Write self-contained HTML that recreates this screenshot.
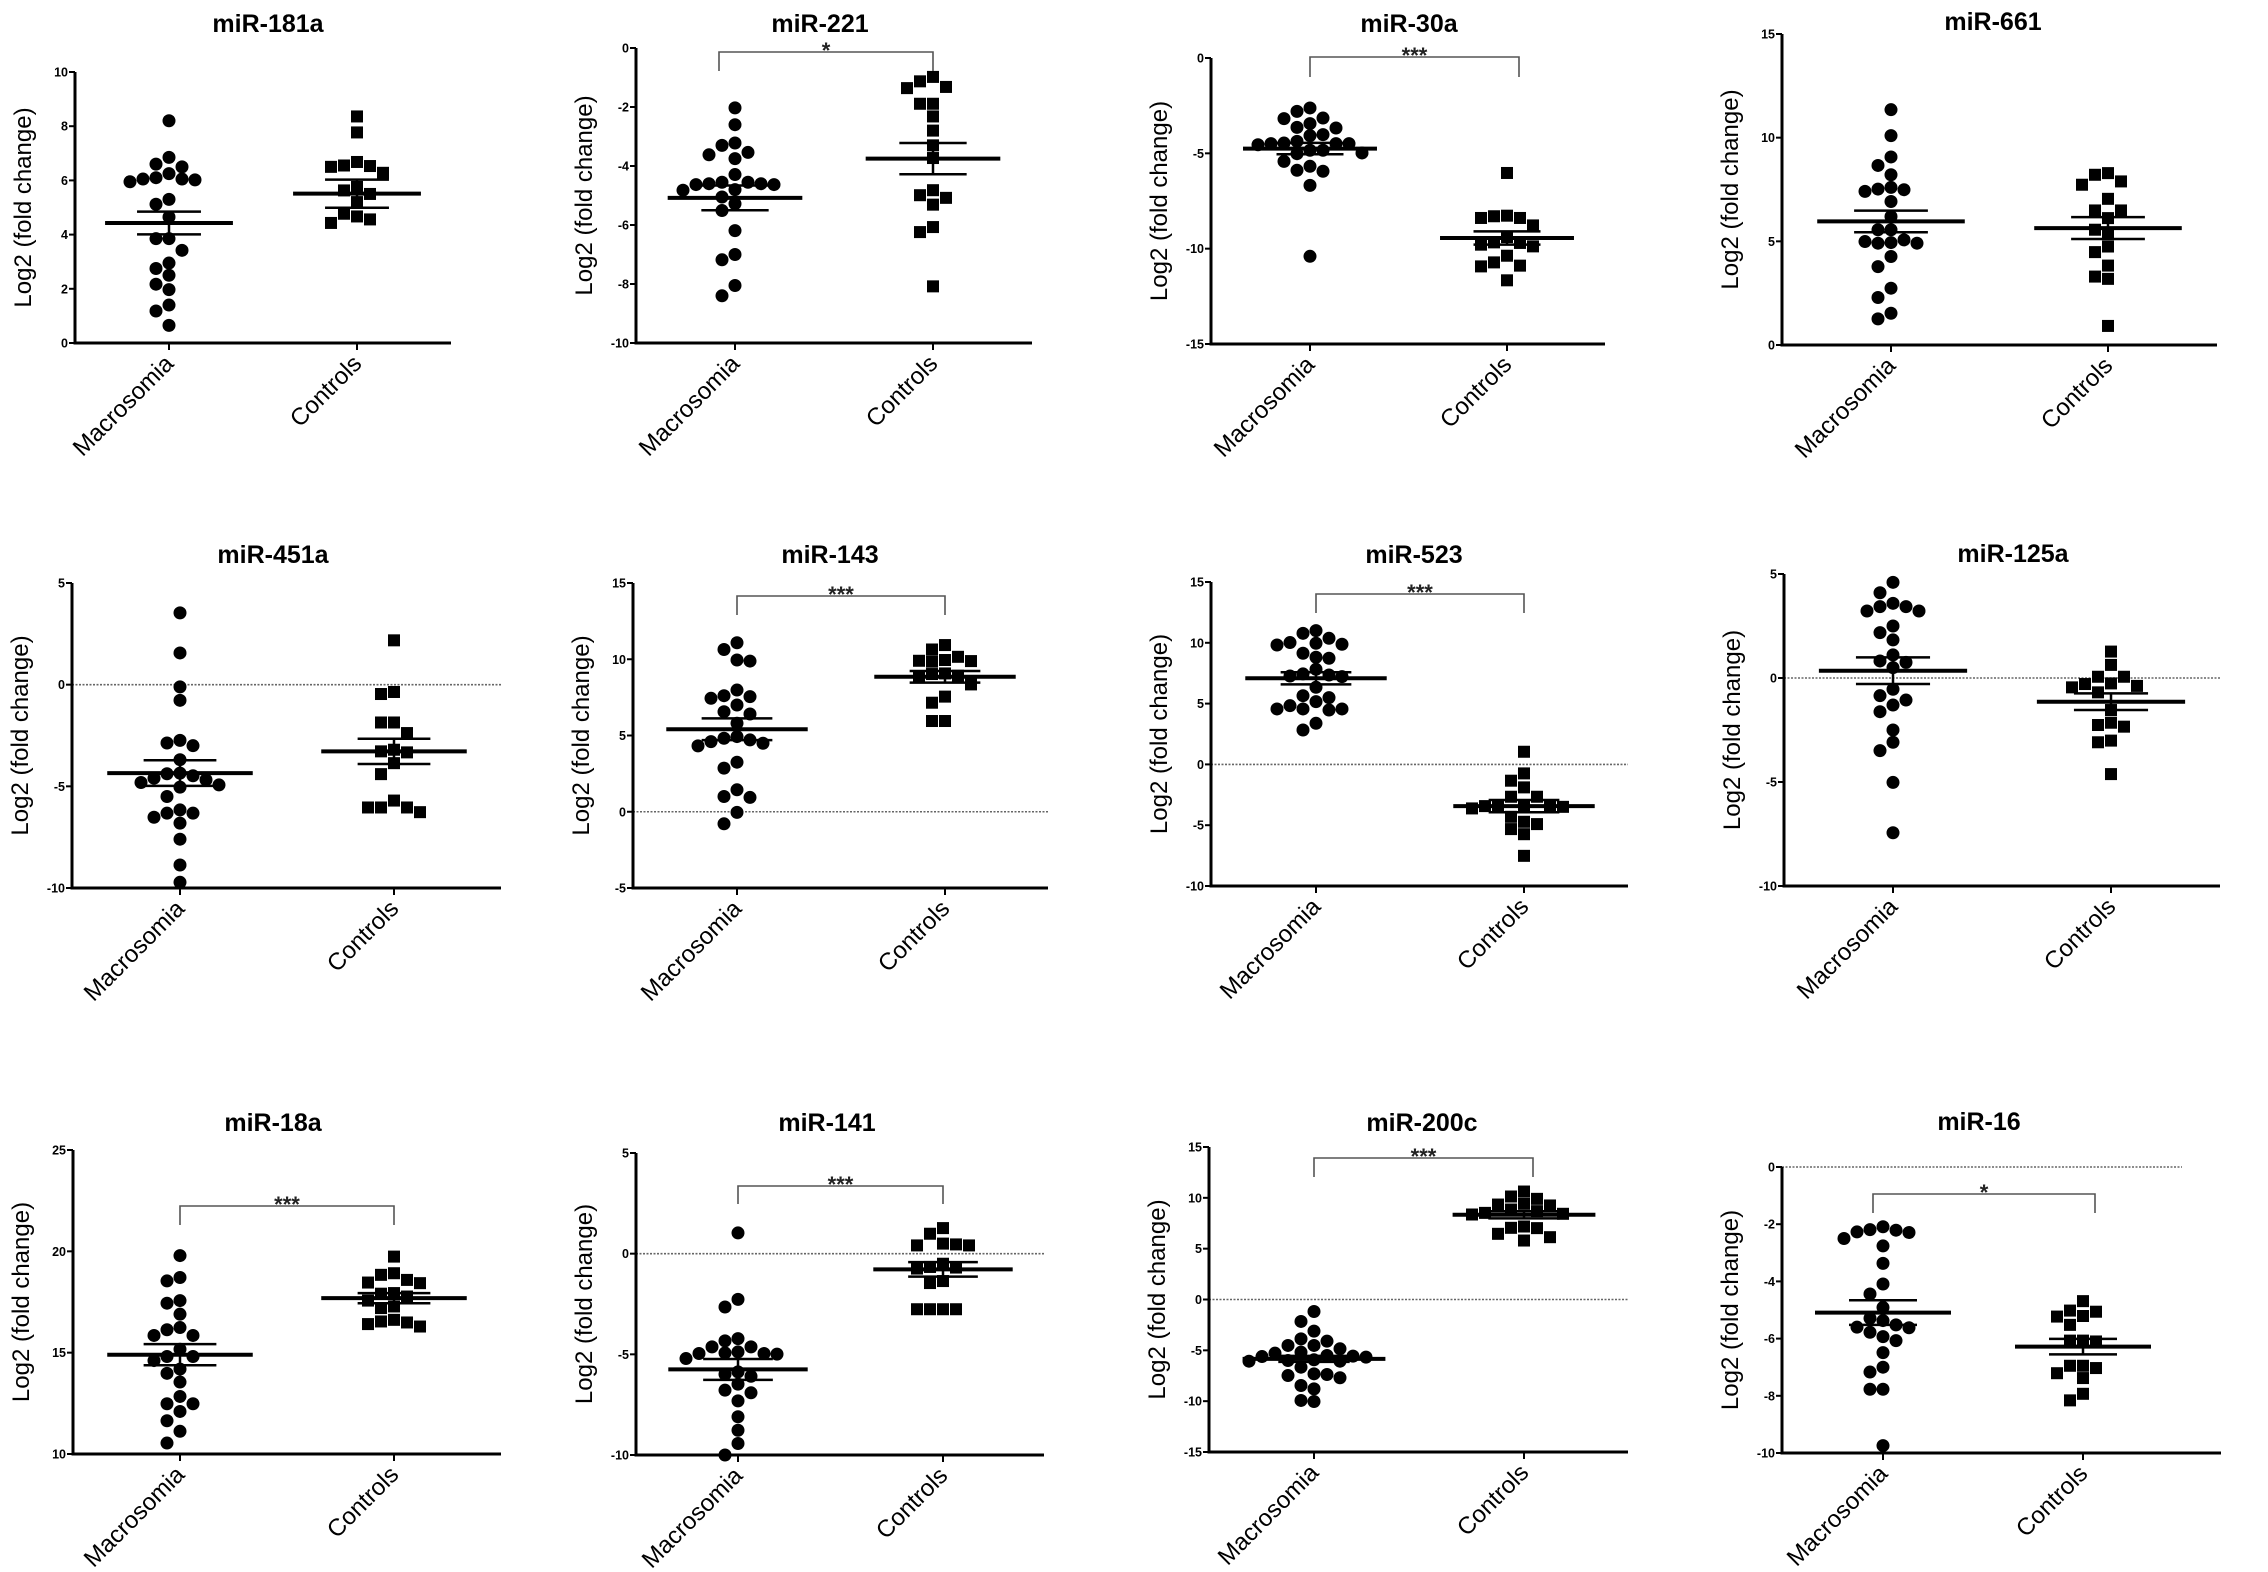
<!DOCTYPE html>
<html><head><meta charset="utf-8"><title>miRNA expression: Macrosomia vs Controls</title>
<style>
html,body{margin:0;padding:0;background:#fff;}
svg{display:block;font-family:"Liberation Sans",Arial,sans-serif;}
</style></head>
<body>
<svg id="fig" xmlns="http://www.w3.org/2000/svg" width="2268" height="1572" viewBox="0 0 2268 1572">
<rect x="0" y="0" width="2268" height="1572" fill="#fff"/>
</svg>
<script>
// ---- data ----
const titles = ["miR-181a","miR-221","miR-30a","miR-661","miR-451a","miR-143","miR-523","miR-125a","miR-18a","miR-141","miR-200c","miR-16"];
const categories = ["Macrosomia","Controls"];
const yMins = [0,-10,-15,0,-10,-5,-10,-10,10,-10,-15,-10];
const yMaxs = [10,0,0,15,5,15,15,5,25,5,15,0];
const tickSteps = [2,2,5,5,5,5,5,5,5,5,5,2];
const significance = ["","*","***","","","***","***","","***","***","***","*"];
const zeroLines = [false,false,false,false,true,true,true,true,false,true,true,true];
const macroValues = [
 [8.2,6.85,6.6,6.5,6.25,6.1,6.05,6.02,6.05,5.95,5.3,5.12,4.65,3.85,3.85,3.42,2.95,2.75,2.5,2.17,1.97,1.4,1.18,0.65],
 [-2.03,-2.6,-3.22,-3.3,-3.62,-3.54,-3.75,-4.29,-4.55,-4.6,-4.63,-4.63,-4.6,-4.55,-4.82,-4.8,-5.05,-5.28,-5.51,-6.19,-7.0,-7.18,-8.05,-8.4],
 [-2.62,-2.8,-3.15,-3.18,-3.44,-3.67,-3.64,-4.07,-4.02,-4.37,-4.49,-4.55,-4.49,-4.49,-4.46,-4.84,-4.98,-4.84,-5.02,-5.42,-5.68,-5.89,-5.94,-6.68,-10.4],
 [11.35,10.1,9.07,8.66,8.21,7.6,7.49,7.41,7.52,6.92,6.2,5.56,5.56,4.99,4.91,4.91,4.94,5.07,4.27,3.78,2.74,2.29,1.53,1.26],
 [3.53,1.56,-0.11,-0.77,-2.74,-2.87,-3.0,-3.69,-4.38,-4.35,-4.48,-4.6,-4.68,-4.81,-4.93,-5.04,-5.5,-6.16,-6.32,-6.32,-6.52,-6.81,-7.6,-8.87,-9.72],
 [11.08,10.64,9.95,9.88,7.98,7.61,7.55,7.44,7.0,6.56,6.41,5.8,4.93,4.82,4.71,4.6,4.49,4.32,3.25,2.86,1.44,1.0,0.94,-0.04,-0.79],
 [11.0,10.78,10.37,9.96,9.82,9.88,10.02,8.73,9.14,8.81,7.82,7.44,7.27,7.35,7.22,6.34,5.65,5.16,5.49,4.83,4.56,4.56,4.47,4.56,3.38,2.83],
 [4.6,4.1,3.59,3.43,3.22,3.22,3.43,2.5,2.18,1.83,1.11,0.82,0.75,0.5,-0.54,-0.85,-1.06,-1.3,-1.62,-2.5,-3.09,-3.49,-5.02,-7.44],
 [19.79,18.71,18.54,17.57,17.44,16.9,16.24,16.13,15.85,15.85,15.17,14.81,14.81,14.61,14.19,13.98,13.55,12.84,12.48,12.48,12.1,11.64,11.12,10.54],
 [1.03,-2.27,-2.65,-4.22,-4.33,-4.63,-4.63,-4.88,-4.96,-4.99,-4.96,-4.93,-5.21,-5.87,-6.09,-5.99,-6.48,-6.78,-6.91,-7.31,-8.1,-8.77,-9.43,-10.0],
 [-1.18,-2.16,-3.11,-3.87,-4.1,-4.52,-4.52,-4.85,-5.28,-5.18,-5.51,-5.67,-5.57,-5.61,-5.93,-6.0,-6.07,-6.07,-6.66,-7.31,-7.38,-7.48,-7.7,-8.46,-8.79,-9.93,-10.03],
 [-2.09,-2.27,-2.19,-2.29,-2.21,-2.5,-2.76,-3.37,-4.09,-4.44,-4.91,-5.29,-5.37,-5.52,-5.62,-5.6,-5.78,-5.93,-6.07,-6.49,-7.0,-7.17,-7.77,-7.77,-9.74]
];
const controlValues = [
 [8.36,7.77,6.68,6.55,6.53,6.5,6.28,5.76,5.63,5.5,5.2,4.77,4.67,4.56,4.43],
 [-0.98,-1.13,-1.36,-1.32,-1.89,-1.89,-2.32,-2.8,-3.3,-3.73,-4.82,-4.99,-5.08,-5.31,-6.07,-6.24,-8.08],
 [-6.03,-8.3,-8.39,-8.39,-8.27,-8.78,-9.39,-9.7,-9.79,-9.88,-9.67,-10.37,-10.89,-10.93,-10.72,-11.66],
 [8.29,8.21,7.89,7.73,7.05,6.49,6.49,6.12,5.56,5.39,4.75,4.48,3.83,3.3,3.19,0.92],
 [2.18,-0.46,-0.36,-1.86,-1.86,-2.38,-3.2,-3.28,-3.33,-3.86,-4.4,-5.7,-6.04,-6.04,-6.27,-6.04],
 [10.93,10.64,10.16,9.95,9.88,9.84,9.9,9.07,9.03,8.92,8.85,8.35,7.55,7.15,5.95,5.95],
 [1.04,-0.74,-1.34,-1.89,-2.66,-2.66,-3.35,-3.35,-3.43,-3.43,-3.62,-3.49,-4.31,-4.72,-4.91,-5.32,-5.74,-7.52],
 [1.27,0.63,0.06,0.06,-0.26,-0.29,-0.38,-0.45,-0.69,-1.54,-2.15,-2.26,-2.34,-3.01,-3.09,-4.62],
 [19.74,18.92,18.84,18.59,18.43,18.46,17.94,17.91,17.77,17.57,17.28,17.2,16.62,16.54,16.41,16.29,16.49],
 [1.27,0.99,0.5,0.46,0.41,0.41,-0.5,-0.66,-0.69,-0.74,-1.36,-1.46,-2.76,-2.76,-2.76,-2.76],
 [10.62,10.13,9.9,9.34,9.41,9.25,8.85,8.69,8.52,8.43,8.36,7.05,7.18,7.02,6.46,6.13,5.8],
 [-4.69,-5.02,-5.06,-5.21,-5.23,-5.52,-6.07,-6.1,-6.07,-6.95,-6.95,-7.03,-7.21,-7.38,-7.93,-8.16]
];
const macroMeans = [4.43,-5.08,-4.75,5.96,-4.35,5.41,7.08,0.35,14.9,-5.75,-5.84,-5.09];
const macroSems  = [0.42,0.42,0.3,0.52,0.63,0.71,0.5,0.64,0.52,0.52,0.3,0.43];
const controlMeans = [5.51,-3.75,-9.44,5.64,-3.28,8.85,-3.43,-1.14,17.69,-0.78,8.33,-6.28];
const controlSems  = [0.52,0.53,0.35,0.53,0.62,0.38,0.5,0.4,0.25,0.36,0.35,0.27];

// ---- layout (pixels) ----
const layout = [
 {ax:75,xr:451,top:72,bot:343,g1:169,g2:357,tx:268,ty:32},
 {ax:636,xr:1032,top:48,bot:343,g1:735,g2:933,tx:820,ty:32,by:52,bd:71},
 {ax:1211,xr:1605,top:58,bot:344,g1:1310,g2:1507,tx:1409,ty:32,by:57,bd:77},
 {ax:1782,xr:2217,top:34,bot:345,g1:1891,g2:2108,tx:1993,ty:30},
 {ax:72,xr:501,top:583,bot:888,g1:180,g2:394,tx:273,ty:563},
 {ax:633,xr:1048,top:583,bot:888,g1:737,g2:945,tx:830,ty:563,by:596,bd:615},
 {ax:1211,xr:1628,top:582,bot:886,g1:1316,g2:1524,tx:1414,ty:563,by:594,bd:613},
 {ax:1784,xr:2220,top:574,bot:886,g1:1893,g2:2111,tx:2013,ty:562},
 {ax:73,xr:501,top:1150,bot:1454,g1:180,g2:394,tx:273,ty:1131,by:1206,bd:1225},
 {ax:636,xr:1044,top:1153,bot:1455,g1:738,g2:943,tx:827,ty:1131,by:1186,bd:1204},
 {ax:1209,xr:1628,top:1147,bot:1452,g1:1314,g2:1524,tx:1422,ty:1131,by:1158,bd:1177},
 {ax:1782,xr:2221,top:1167,bot:1453,g1:1883,g2:2083,tx:1979,ty:1130,by:1194,bd:1213,zr:2182}
];

const R = 6.5, SQ = 12, DX = 13;
const NS = "http://www.w3.org/2000/svg";
const svg = document.getElementById("fig");
function mk(tag, attrs, parent){
  const e = document.createElementNS(NS, tag);
  for (const k in attrs) e.setAttribute(k, attrs[k]);
  (parent||svg).appendChild(e);
  return e;
}
function swarm(vals, yScale, cx, d, r){
  const order = vals.map((v,i)=>i).sort((a,b)=>vals[b]-vals[a]);
  const placed = []; const xs = new Array(vals.length);
  const offs = [0,-d,d,-2*d,2*d,-3*d,3*d,-4*d,4*d,-5*d,5*d,-6*d,6*d];
  for (const i of order){
    const y = yScale(vals[i]);
    let best = null;
    for (const o of offs){
      const x = cx+o;
      let ok = true;
      for (const p of placed){ const dx=p[0]-x, dy=p[1]-y; if (dx*dx+dy*dy < (2*r-1)*(2*r-1)) {ok=false;break;} }
      if (ok){ best = x; break; }
    }
    if (best===null) best = cx;
    placed.push([best,y]); xs[i]=best;
  }
  return xs;
}

for (let p=0;p<titles.length;p++){
  const L = layout[p];
  const g = mk("g", {});
  
  
  const y = v => L.bot - (v - yMins[p])/(yMaxs[p]-yMins[p])*(L.bot-L.top);
  const spacing = L.g2 - L.g1;

  const t = mk("text", {x:L.tx, y:L.ty, "text-anchor":"middle", "font-size":25, "font-weight":"bold", fill:"#000"}, g);
  t.textContent = titles[p];
  
  

  const mid = (L.top+L.bot)/2;
  const yl = mk("text", {x:0, y:0, transform:`translate(${L.ax-44},${mid}) rotate(-90)`, "text-anchor":"middle", "font-size":24, fill:"#000"}, g);
  yl.textContent = "Log2 (fold change)";
  
  

  if (zeroLines[p]){
    const zl = mk("line", {x1:L.ax, x2:(L.zr||L.xr), y1:y(0), y2:y(0), stroke:"#666", "stroke-width":1.6, "stroke-dasharray":"2,1.5"}, g);
    
    
  }

  const ya = mk("line", {x1:L.ax, x2:L.ax, y1:L.top, y2:L.bot+1.5, stroke:"#000", "stroke-width":3}, g);
  
  
  const xa = mk("line", {x1:L.ax-1.5, x2:L.xr, y1:L.bot, y2:L.bot, stroke:"#000", "stroke-width":3}, g);
  
  

  for (let v=yMins[p]; v<=yMaxs[p]+1e-9; v+=tickSteps[p]){
    const ty = y(v);
    const tk = mk("line", {x1:L.ax-6, x2:L.ax, y1:ty, y2:ty, stroke:"#000", "stroke-width":2}, g);
    
    
    const tl = mk("text", {x:L.ax-7, y:ty+4.5, "text-anchor":"end", "font-size":12.5, "font-weight":"bold", fill:"#000"}, g);
    tl.textContent = String(v);
    
    
  }

  const groups = [L.g1, L.g2];
  const vals = [macroValues[p], controlValues[p]];
  const means = [macroMeans[p], controlMeans[p]];
  const sems = [macroSems[p], controlSems[p]];
  for (let k=0;k<2;k++){
    const gx = groups[k];
    const xt = mk("line", {x1:gx, x2:gx, y1:L.bot, y2:L.bot+7, stroke:"#000", "stroke-width":2}, g);
    
    
    const xl = mk("text", {x:0, y:0, transform:`translate(${gx+6},${L.bot+22}) rotate(-45)`, "text-anchor":"end", "font-size":24, fill:"#000"}, g);
    xl.textContent = categories[k];
    
    

    const xs = swarm(vals[k], y, gx, DX, R);
    vals[k].forEach((v,i)=>{
      let m;
      if (k===0){
        m = mk("circle", {cx:xs[i], cy:y(v), r:R, fill:"#000"}, g);
        
      } else {
        m = mk("rect", {x:xs[i]-SQ/2, y:y(v)-SQ/2, width:SQ, height:SQ, fill:"#000"}, g);
        
      }
      
    });

    const mw = spacing*0.34, sw = spacing*0.17;
    const my = y(means[k]), su = y(means[k]+sems[k]), sd = y(means[k]-sems[k]);
    const ml = mk("line", {x1:gx-mw, x2:gx+mw, y1:my, y2:my, stroke:"#000", "stroke-width":4}, g);
    
    
    const vl = mk("line", {x1:gx, x2:gx, y1:su, y2:sd, stroke:"#000", "stroke-width":2.5}, g);
    
    
    const s1 = mk("line", {x1:gx-sw, x2:gx+sw, y1:su, y2:su, stroke:"#000", "stroke-width":2.5}, g);
    
    
    const s2 = mk("line", {x1:gx-sw, x2:gx+sw, y1:sd, y2:sd, stroke:"#000", "stroke-width":2.5}, g);
    
    
  }

  if (significance[p]){
    const bx1 = L.g1-(p===1?16:(p===11?10:0)), bx2 = L.g2+(p===2?12:(p===11?12:(p===10?9:0)));
    const br_ = mk("path", {d:`M${bx1},${L.bd} V${L.by} H${bx2} V${L.bd}`, fill:"none", stroke:"#555", "stroke-width":1.6}, g);
    
    
    const st = mk("text", {x:(bx1+bx2)/2, y:L.by+6, "text-anchor":"middle", "font-size":22, "font-weight":"bold", fill:"#222"}, g);
    st.textContent = significance[p];
    
    
  }
}
</script>
</body></html>
